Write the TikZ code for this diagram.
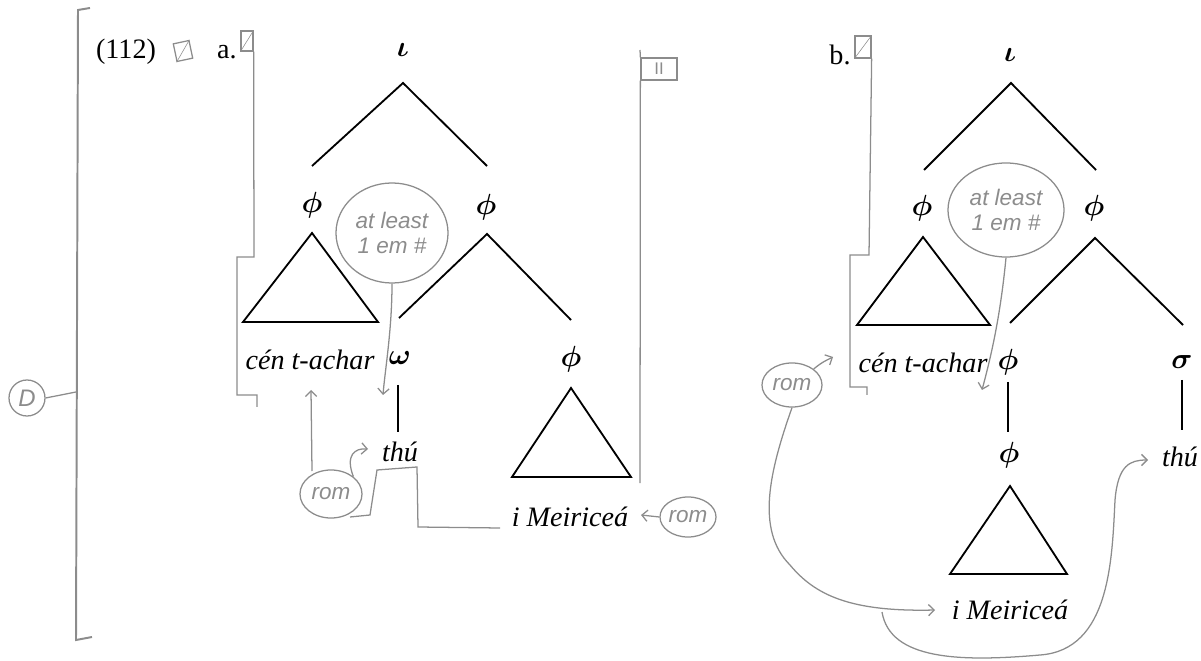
\documentclass[tikz,border=0pt]{standalone}
\usepackage{amsmath,bm}
\usepackage{fontspec}
\setmainfont{Liberation Serif}
\setsansfont{Liberation Sans}
\definecolor{pencil}{RGB}{140,140,140}
\usetikzlibrary{arrows.meta,positioning,shapes.geometric,calc}

\begin{document}
\begin{tikzpicture}[x=0.025cm,y=-0.025cm,
  cat/.style={font=\fontsize{20}{24}\selectfont,inner sep=1pt},
  word/.style={font=\fontsize{20}{24}\selectfont\itshape,inner sep=1pt},
  branch/.style={line width=1.3pt,black},
  pen/.style={draw=pencil,line width=0.9pt},
  hand/.style={text=pencil,font=\sffamily\itshape\fontsize{16}{18}\selectfont},
  bubble/.style={pen,ellipse,inner sep=0pt,align=center,hand},
  tick/.style={pen,minimum width=0.4cm,minimum height=0.45cm,inner sep=0pt}]
  \useasboundingbox (0,0) rectangle (1201,661);

  % --- numbering and outer bracket
  \node[cat] (num) at (126,52) {(112)};
  \node[cat] (la) at (227,52) {a.};
  \node[cat] (lb) at (840,55) {b.};
  \node[tick,rotate=12] (ck0) at (183,51) {};
  \draw[pencil] (ck0.south west) -- (ck0.north east);
  \node[tick,minimum width=0.3cm,minimum height=0.5cm] (ck1) at (247,41) {};
  \draw[pencil] (ck1.south west) -- (ck1.north east);
  \node[tick,minimum width=0.4cm,minimum height=0.55cm] (ck2) at (863,47) {};
  \draw[pencil] (ck2.south west) -- (ck2.north east);
  \node[tick,minimum width=0.9cm,minimum height=0.55cm,text=pencil,
        font=\sffamily\fontsize{12}{12}\selectfont] (ck3) at (659,69) {II};

  \draw[pen,line width=1.4pt] (90,8) -- (78,10) -- (76,640) -- (92,637);
  \node[pen,circle,minimum size=0.9cm,inner sep=0pt,hand,font=\sffamily\itshape\fontsize{17}{17}\selectfont] (dee) at (27,398) {D};
  \draw[pen] (dee.east) -- (76,392);

  % --- brackets beside the trees
  \draw[pen] (ck1.south east) -- (254,257) -- (237,257) -- (237,395) -- (257,395) -- (257,407);
  \draw[pen] (640,50) -- (ck3.north west);
  \draw[pen] (ck3.south west) -- (640,483);
  \draw[pen] (ck2.south east) -- (869,255) -- (850,255) -- (850,387) -- (867,387) -- (867,395);

  % --- tree a
  \node[cat] (ia) at (403,50) {$\bm{\iota}$};
  \node[cat] (pa1) at (312,205) {$\bm{\phi}$};
  \node[cat] (pa2) at (486,207) {$\bm{\phi}$};
  \node[word] (wa1) at (310,360) {cén t-achar};
  \node[cat] (oa) at (400,358) {$\bm{\omega}$};
  \node[cat] (pa3) at (571,359) {$\bm{\phi}$};
  \node[word] (wa2) at (400,452) {thú};
  \node[word] (wa3) at (570,517) {i Meiriceá};
  \coordinate (aTop) at (403,83);
  \draw[branch] (312,166) -- (aTop) -- (487,166);
  \coordinate (aMid) at (487,234);
  \draw[branch] (399,318) -- (aMid) -- (571,320);
  \draw[branch] (312,233) -- (243,322) -- (378,322) -- cycle;
  \draw[branch] (571,388) -- (512,477) -- (631,477) -- cycle;
  \draw[branch] (398,385) -- (398,432);

  % --- tree b
  \node[cat] (ib) at (1010,55) {$\bm{\iota}$};
  \node[cat] (pb1) at (922,208) {$\bm{\phi}$};
  \node[cat] (pb2) at (1094,208) {$\bm{\phi}$};
  \node[word] (wb1) at (923,363) {cén t-achar};
  \node[cat] (pb3) at (1008,362) {$\bm{\phi}$};
  \node[cat] (sb) at (1182,362) {$\bm{\sigma}$};
  \node[cat] (pb4) at (1009,455) {$\bm{\phi}$};
  \node[word] (wb2) at (1180,457) {thú};
  \node[word] (wb3) at (1010,610) {i Meiriceá};
  \coordinate (bTop) at (1011,83);
  \draw[branch] (924,170) -- (bTop) -- (1096,170);
  \coordinate (bMid) at (1095,238);
  \draw[branch] (1010,323) -- (bMid) -- (1183,325);
  \draw[branch] (923,237) -- (857,325) -- (990,325) -- cycle;
  \draw[branch] (1010,486) -- (950,574) -- (1067,574) -- cycle;
  \draw[branch] (1008,382) -- (1008,432);
  \draw[branch] (1182,380) -- (1182,430);

  % --- pencil notes, a
  \node[bubble,minimum width=2.8cm,minimum height=2.5cm] (ema) at (392,233) {at least\\1 em \#};
  \draw[pen,-{Straight Barb[length=4pt]}] (ema.south) .. controls (392,330) and (385,370) .. (383,395);
  \node[bubble,minimum width=1.55cm,minimum height=1.2cm] (roma1) at (331,494) {rom};
  \draw[pen,-{Straight Barb[length=4pt]}] (312,471) -- (311,390);
  \draw[pen,-{Straight Barb[length=4pt]}] (roma1.north east) .. controls (345,455) and (355,448) .. (368,449);
  \draw[pen] (350,517) -- (370,515) -- (377,470) -- (417,467) -- (418,527) -- (500,528);
  \node[bubble,minimum width=1.4cm,minimum height=1.0cm] (roma2) at (688,517) {rom};
  \draw[pen,-{Straight Barb[length=4pt]}] (roma2.west) -- (641,515);

  % --- pencil notes, b
  \node[bubble,minimum width=2.9cm,minimum height=2.35cm] (emb) at (1006,210) {at least\\1 em \#};
  \draw[pen,-{Straight Barb[length=4pt]}] (emb.south) .. controls (1000,320) and (990,360) .. (982,390);
  \node[bubble,minimum width=1.5cm,minimum height=1.1cm] (romb) at (792,385) {rom};
  \draw[pen,-{Straight Barb[length=4pt]}] (romb.north east) .. controls (822,362) and (827,360) .. (833,357);
  \draw[pen,-{Straight Barb[length=4pt]}] (romb.south) .. controls (770,470) and (755,530) .. (790,565)
        .. controls (815,595) and (850,612) .. (935,610);
  \draw[pen,-{Straight Barb[length=4pt]}] (882,612) .. controls (890,660) and (960,662) .. (1040,655)
        .. controls (1110,650) and (1112,560) .. (1115,500)
        .. controls (1118,465) and (1130,460) .. (1148,460);
\end{tikzpicture}
\end{document}
